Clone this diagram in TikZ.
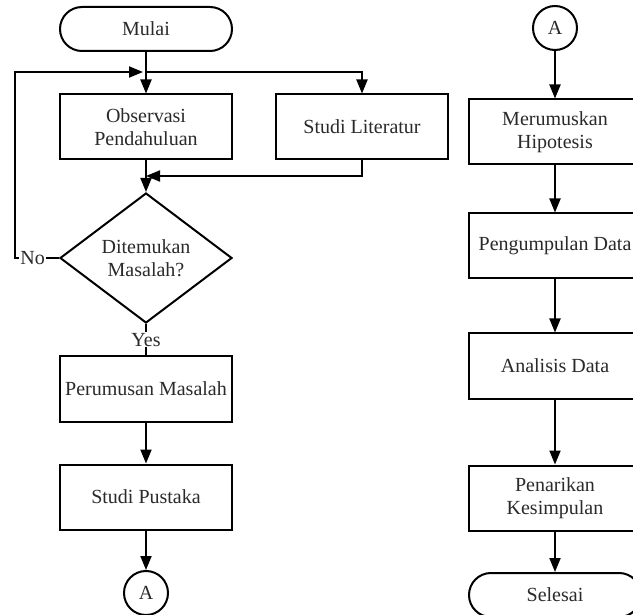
\documentclass[tikz,border=0pt]{standalone}
\usepackage{fontspec}
\setmainfont{Liberation Serif}
\usetikzlibrary{arrows.meta,shapes.geometric}
\definecolor{txt}{HTML}{2A2A2A}
\tikzset{
  x=1pt,y=-1pt,
  every node/.style={font=\fontsize{20}{23}\selectfont, text=txt},
  procbox/.style={draw, line width=2pt, minimum width=172pt, minimum height=65pt, inner sep=0pt, align=center},
  termbox/.style={draw, line width=2pt, minimum width=172pt, minimum height=44pt, rounded corners=22pt, inner sep=0pt},
  decbox/.style={draw, diamond, line width=2pt, minimum width=172pt, minimum height=130pt, inner sep=0pt, aspect=1.32, align=center},
  conn/.style={draw, circle, line width=2pt, minimum size=44pt, inner sep=0pt},
  flow/.style={line width=2pt, -{Triangle[length=14pt,width=11pt]}},
  plain/.style={line width=2pt},
  lbl/.style={fill=white, inner sep=1pt}
}
\begin{document}
\begin{tikzpicture}
\useasboundingbox (0,0) rectangle (633,615);
\fill[white] (0,0) rectangle (633,615);
% left column
\node[termbox] (mulai) at (146,29) {Mulai};
\node[procbox] (obs) at (146,127) {Observasi\\Pendahuluan};
\node[procbox] (lit) at (362,127) {Studi Literatur};
\node[decbox] (dec) at (146,258) {Ditemukan\\Masalah?};
\node[procbox] (rum) at (146,389) {Perumusan Masalah};
\node[procbox] (pus) at (146,497) {Studi Pustaka};
\node[conn] (a1) at (146,593) {A};
\coordinate (j1) at (146,72);
\coordinate (j2) at (146,176);
\coordinate (lc) at (15,72);
% right column
\node[conn] (a2) at (555,28) {A};
\node[procbox] (hip) at (555,132) {Merumuskan\\Hipotesis};
\node[procbox] (kum) at (555,246) {Pengumpulan Data};
\node[procbox] (ana) at (555,366) {Analisis Data};
\node[procbox] (tar) at (555,498) {Penarikan\\Kesimpulan};
\node[termbox] (sel) at (555,595) {Selesai};
% connectors
\draw[flow] (mulai) -- (obs);
\draw[flow] (j1) -| (lit);
\draw[flow] (obs) -- (dec);
\draw[flow] (lit.south) |- (j2);
\draw[flow] (dec.west) -- node[lbl, pos=0.6] {No} (dec.west -| lc) -- (lc) -- ([xshift=-3pt]j1);
\draw[plain] (dec.south) -- node[lbl, pos=0.5] {Yes} (rum.north);
\draw[flow] (rum) -- (pus);
\draw[flow] (pus) -- (a1);
\draw[flow] (a2) -- (hip);
\draw[flow] (hip) -- (kum);
\draw[flow] (kum) -- (ana);
\draw[flow] (ana) -- (tar);
\draw[flow] (tar) -- (sel);
\end{tikzpicture}
\end{document}
